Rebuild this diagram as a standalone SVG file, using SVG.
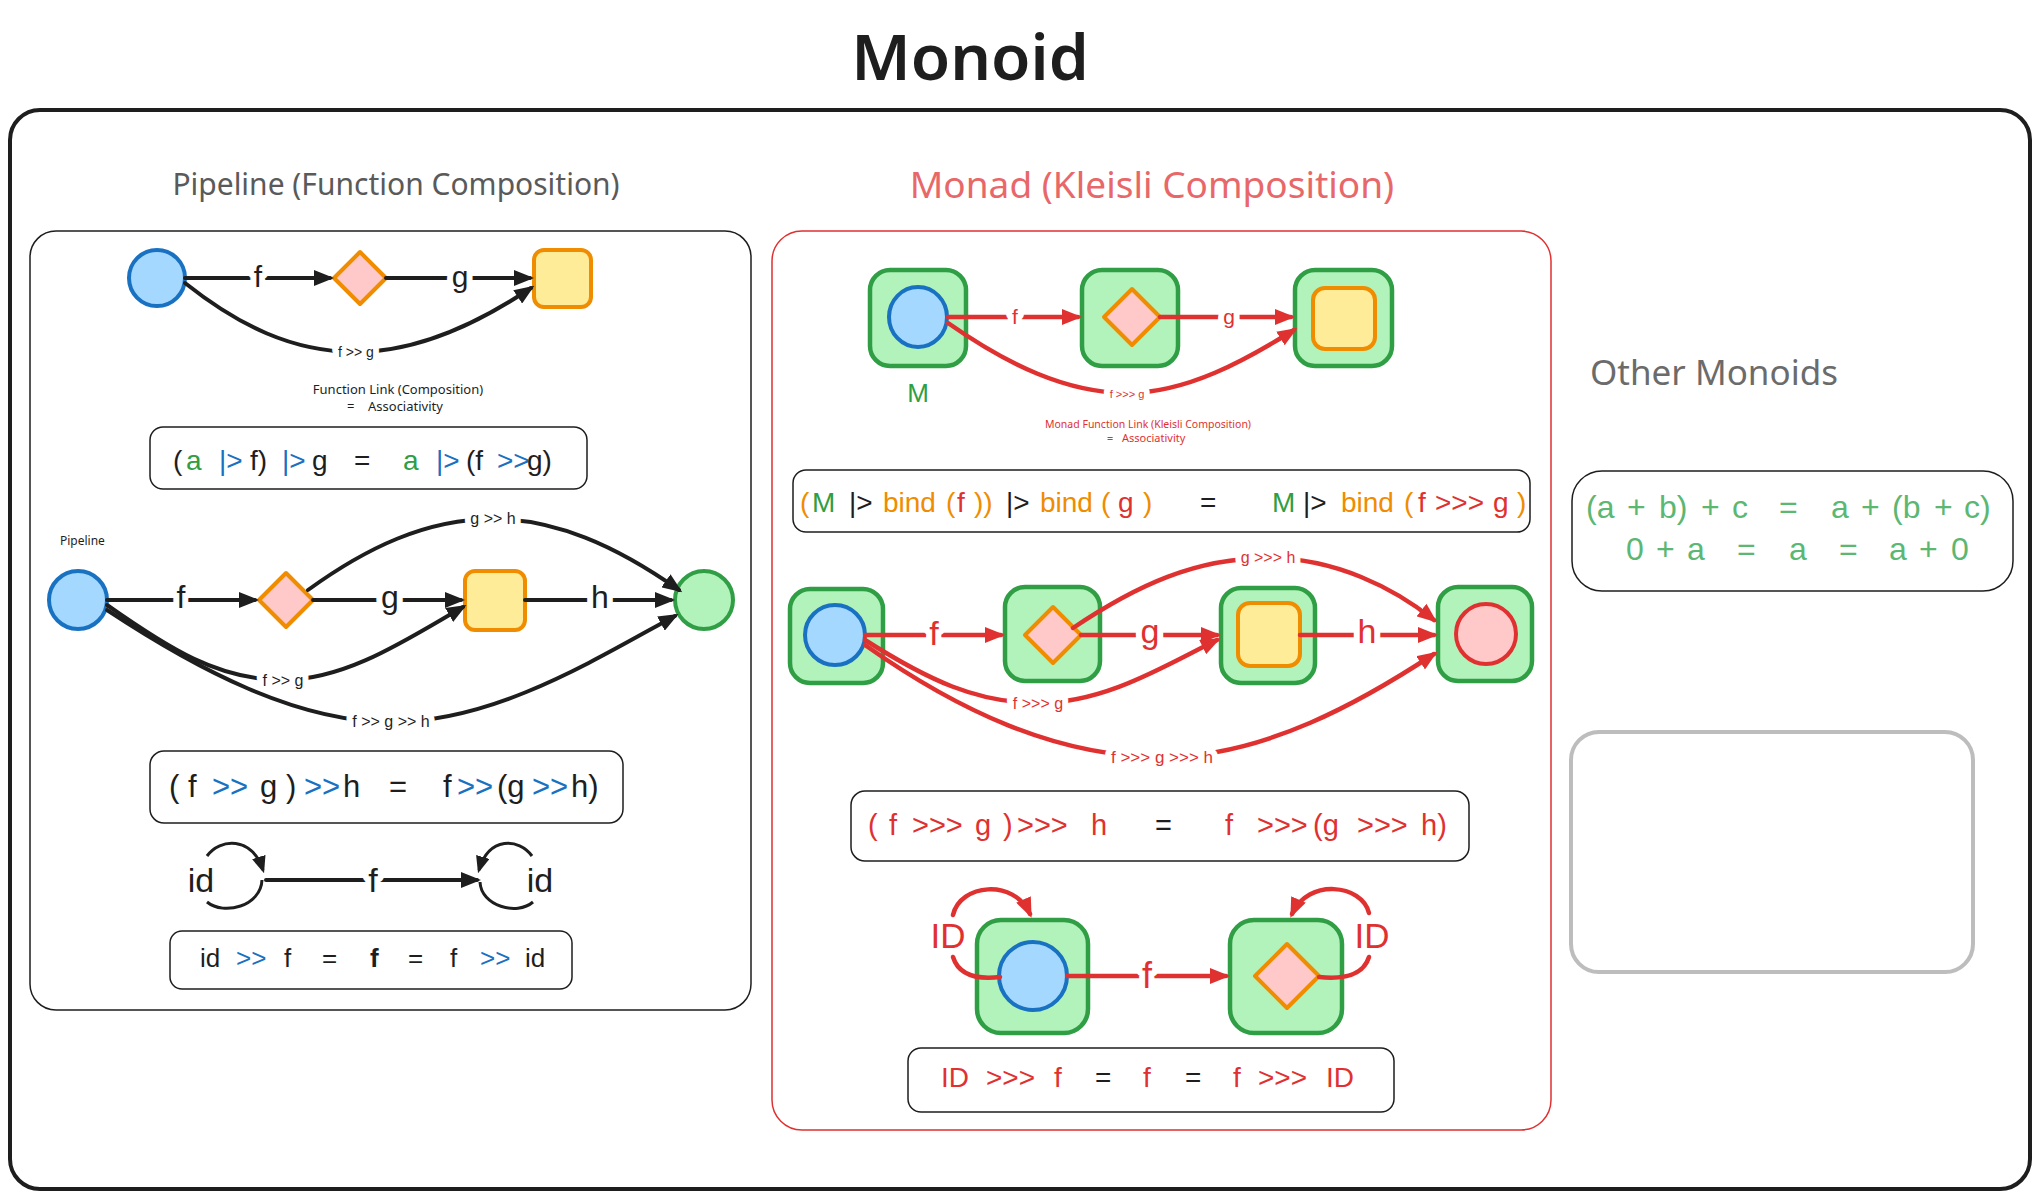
<svg xmlns="http://www.w3.org/2000/svg" width="2040" height="1199" viewBox="0 0 2040 1199">
<defs>
<style>
.hand{font-family:"Noto Sans","DejaVu Sans",sans-serif;}
.eq{font-family:"Liberation Sans Narrow","Liberation Sans",Arial,sans-serif;}
.eqw{font-family:"Liberation Sans",Arial,sans-serif;}
.k{fill:#1e1e1e}.bl{fill:#1971c2}.gr{fill:#2f9e44}.or{fill:#f08c00}.rd{fill:#e03131}
.lbl{paint-order:stroke;stroke:#fff;stroke-width:12px;stroke-linejoin:round;}
.cb{fill:none;stroke:#1e1e1e;stroke-width:4;stroke-linecap:round}
.cr{fill:none;stroke:#e03131;stroke-width:4.5;stroke-linecap:round}
.blue{fill:#a5d8ff;stroke:#1971c2;stroke-width:4}
.pink{fill:#ffc9c9;stroke:#f08c00;stroke-width:4;stroke-linejoin:round}
.yel{fill:#ffec99;stroke:#f08c00;stroke-width:4}
.grn{fill:#b2f2bb;stroke:#2f9e44;stroke-width:4}
.box{fill:#b2f2bb;stroke:#2f9e44;stroke-width:4.5}
.rcirc{fill:#ffc9c9;stroke:#e03131;stroke-width:4}
.eqbox{fill:none;stroke:#1e1e1e;stroke-width:1.5}
</style>
<marker id="ab" viewBox="0 0 10 10" refX="8" refY="5" markerWidth="20" markerHeight="16" preserveAspectRatio="none" markerUnits="userSpaceOnUse" orient="auto"><path d="M0,0 L10,5 L0,10 z" fill="#1e1e1e"/></marker>
<marker id="abs" viewBox="0 0 10 10" refX="8" refY="5" markerWidth="17" markerHeight="14" preserveAspectRatio="none" markerUnits="userSpaceOnUse" orient="auto"><path d="M0,0 L10,5 L0,10 z" fill="#1e1e1e"/></marker>
<marker id="ar" viewBox="0 0 10 10" refX="8" refY="5" markerWidth="20" markerHeight="16" preserveAspectRatio="none" markerUnits="userSpaceOnUse" orient="auto"><path d="M0,0 L10,5 L0,10 z" fill="#e03131"/></marker>
</defs>
<rect width="2040" height="1199" fill="#fff"/>

<g id="frame">
<rect x="10" y="110" width="2020" height="1079" rx="30" fill="none" stroke="#1e1e1e" stroke-width="4"/>
<text x="970" y="80" class="hand" font-size="64" font-weight="600" text-anchor="middle" fill="#1e1e1e">Monoid</text>
</g>

<g id="pipeline-panel">
<text x="396" y="195" class="hand" font-size="30" text-anchor="middle" fill="#5a5a5a">Pipeline (Function Composition)</text>
<rect x="30" y="231" width="721" height="779" rx="26" fill="none" stroke="#1e1e1e" stroke-width="1.5"/>
<text x="398" y="394" class="hand" font-size="13" text-anchor="middle" fill="#1e1e1e">Function Link (Composition)</text>
<text x="347" y="411" class="hand" font-size="13" fill="#1e1e1e">=</text>
<text x="368" y="411" class="hand" font-size="13" fill="#1e1e1e">Associativity</text>
<text x="60" y="545" class="hand" font-size="12" fill="#1e1e1e">Pipeline</text>
</g>

<g id="kleisli-panel">
<text x="1152" y="198" class="hand" font-size="37" text-anchor="middle" fill="#e8686a">Monad (Kleisli Composition)</text>
<rect x="772" y="231" width="779" height="899" rx="30" fill="none" stroke="#e03131" stroke-width="1.5"/>
<text x="918" y="402" class="eqw" font-size="26" text-anchor="middle" fill="#2f9e44">M</text>
<text x="1148" y="428" class="hand" font-size="10.5" text-anchor="middle" fill="#e03131">Monad Function Link (Kleisli Composition)</text>
<text x="1107" y="442" class="hand" font-size="11" fill="#e03131">=</text>
<text x="1122" y="442" class="hand" font-size="11" fill="#e03131">Associativity</text>
</g>

<g id="other-panel">
<text x="1714" y="385" class="hand" font-size="35" text-anchor="middle" fill="#6b6b6b">Other Monoids</text>
</g>

<!-- Left top nodes -->
<g id="p1-a"><circle cx="157" cy="278" r="28" class="blue"/></g>
<g id="p1-b"><polygon points="360,252 386,278 360,304 334,278" class="pink"/></g>
<g id="p1-c"><rect x="534" y="250" width="57" height="57" rx="10" class="yel"/></g>

<!-- Left middle nodes -->
<g id="p2-a"><circle cx="78" cy="600" r="29" class="blue"/></g>
<g id="p2-b"><polygon points="286,573 313,600 286,627 259,600" class="pink"/></g>
<g id="p2-c"><rect x="465" y="571" width="60" height="59" rx="10" class="yel"/></g>
<g id="p2-d"><circle cx="704" cy="600" r="29" class="grn"/></g>

<!-- Middle top nodes -->
<g id="k1-a"><rect x="870" y="270" width="96" height="96" rx="20" class="box"/><ellipse cx="918" cy="317" rx="29" ry="30" class="blue"/></g>
<g id="k1-b"><rect x="1082" y="270" width="96" height="96" rx="20" class="box"/><polygon points="1132,289 1160,317 1132,345 1104,317" class="pink"/></g>
<g id="k1-c"><rect x="1295" y="270" width="97" height="96" rx="20" class="box"/><rect x="1313" y="288" width="62" height="61" rx="12" class="yel"/></g>

<!-- Middle row nodes -->
<g id="k2-a"><rect x="790" y="589" width="93" height="94" rx="20" class="box"/><ellipse cx="835" cy="635" rx="30" ry="30" class="blue"/></g>
<g id="k2-b"><rect x="1005" y="587" width="95" height="94" rx="20" class="box"/><polygon points="1053,607 1081,635 1053,663 1025,635" class="pink"/></g>
<g id="k2-c"><rect x="1221" y="588" width="94" height="95" rx="20" class="box"/><rect x="1238" y="603" width="62" height="63" rx="12" class="yel"/></g>
<g id="k2-d"><rect x="1438" y="587" width="94" height="94" rx="20" class="box"/><ellipse cx="1486" cy="634" rx="30" ry="30" class="rcirc"/></g>

<!-- Middle bottom nodes -->
<g id="k3-a"><rect x="977" y="920" width="111" height="113" rx="24" class="box"/><ellipse cx="1033" cy="976" rx="34" ry="34" class="blue"/></g>
<g id="k3-b"><rect x="1230" y="920" width="112" height="113" rx="24" class="box"/><polygon points="1287,944 1319,976 1287,1008 1255,976" class="pink"/></g>

<!-- Equation boxes -->
<g id="eq1">
<rect x="150" y="427" width="437" height="62" rx="13" class="eqbox"/>
<text class="eq" font-size="28" y="470"><tspan x="173" class="k">(</tspan><tspan x="186" class="gr">a</tspan><tspan x="219" class="bl">|&gt;</tspan><tspan x="250" class="k">f)</tspan><tspan x="282" class="bl">|&gt;</tspan><tspan x="312" class="k">g</tspan><tspan x="354" class="k">=</tspan><tspan x="403" class="gr">a</tspan><tspan x="436" class="bl">|&gt;</tspan><tspan x="466" class="k">(f</tspan><tspan x="497" class="bl">&gt;&gt;</tspan><tspan x="527" class="k">g)</tspan></text>
</g>
<g id="eq2">
<rect x="150" y="751" width="473" height="72" rx="14" class="eqbox"/>
<text class="eq" font-size="31" y="797"><tspan x="169" class="k">(</tspan><tspan x="188" class="k">f</tspan><tspan x="212" class="bl">&gt;&gt;</tspan><tspan x="260" class="k">g</tspan><tspan x="286" class="k">)</tspan><tspan x="304" class="bl">&gt;&gt;</tspan><tspan x="343" class="k">h</tspan><tspan x="389" class="k">=</tspan><tspan x="443" class="k">f</tspan><tspan x="457" class="bl">&gt;&gt;</tspan><tspan x="497" class="k">(g</tspan><tspan x="532" class="bl">&gt;&gt;</tspan><tspan x="571" class="k">h)</tspan></text>
</g>
<g id="eq3">
<rect x="170" y="931" width="402" height="58" rx="12" class="eqbox"/>
<text class="eq" font-size="26" y="967"><tspan x="200" class="k">id</tspan><tspan x="236" class="bl">&gt;&gt;</tspan><tspan x="284" class="k">f</tspan><tspan x="322" class="k">=</tspan><tspan x="370" class="k" font-weight="bold">f</tspan><tspan x="408" class="k">=</tspan><tspan x="450" class="k">f</tspan><tspan x="480" class="bl">&gt;&gt;</tspan><tspan x="525" class="k">id</tspan></text>
</g>
<g id="eqM">
<rect x="793" y="470" width="737" height="62" rx="13" class="eqbox"/>
<text class="eq" font-size="28" y="512"><tspan x="800" class="or">(</tspan><tspan x="812" class="gr">M</tspan><tspan x="849" class="k">|&gt;</tspan><tspan x="883" class="or">bind</tspan><tspan x="946" class="or">(</tspan><tspan x="957" class="rd">f</tspan><tspan x="974" class="or">))</tspan><tspan x="1006" class="k">|&gt;</tspan><tspan x="1040" class="or">bind</tspan><tspan x="1101" class="or">(</tspan><tspan x="1118" class="rd">g</tspan><tspan x="1143" class="or">)</tspan><tspan x="1200" class="k">=</tspan><tspan x="1272" class="gr">M</tspan><tspan x="1303" class="k">|&gt;</tspan><tspan x="1341" class="or">bind</tspan><tspan x="1404" class="or">(</tspan><tspan x="1418" class="rd">f</tspan><tspan x="1435" class="rd">&gt;&gt;&gt;</tspan><tspan x="1493" class="rd">g</tspan><tspan x="1517" class="or">)</tspan></text>
</g>
<g id="eqK">
<rect x="851" y="791" width="618" height="70" rx="14" class="eqbox"/>
<text class="eq rd" font-size="29" y="835"><tspan x="868">(</tspan><tspan x="889">f</tspan><tspan x="912">&gt;&gt;&gt;</tspan><tspan x="975">g</tspan><tspan x="1003">)</tspan><tspan x="1017">&gt;&gt;&gt;</tspan><tspan x="1091">h</tspan><tspan x="1155" class="k">=</tspan><tspan x="1225">f</tspan><tspan x="1257">&gt;&gt;&gt;</tspan><tspan x="1313">(g</tspan><tspan x="1357">&gt;&gt;&gt;</tspan><tspan x="1421">h)</tspan></text>
</g>
<g id="eqID">
<rect x="908" y="1048" width="486" height="64" rx="13" class="eqbox"/>
<text class="eq rd" font-size="28" y="1087"><tspan x="941">ID</tspan><tspan x="986">&gt;&gt;&gt;</tspan><tspan x="1054">f</tspan><tspan x="1095" class="k">=</tspan><tspan x="1143">f</tspan><tspan x="1185" class="k">=</tspan><tspan x="1233">f</tspan><tspan x="1258">&gt;&gt;&gt;</tspan><tspan x="1326">ID</tspan></text>
</g>
<g id="eqOther">
<rect x="1572" y="471" width="441" height="120" rx="30" class="eqbox"/>
<text class="eqw" font-size="32" y="518" fill="#5cb772"><tspan x="1586">(a</tspan><tspan x="1627">+</tspan><tspan x="1659">b)</tspan><tspan x="1701">+</tspan><tspan x="1732">c</tspan><tspan x="1779">=</tspan><tspan x="1831">a</tspan><tspan x="1861">+</tspan><tspan x="1892">(b</tspan><tspan x="1934">+</tspan><tspan x="1964">c)</tspan></text>
<text class="eqw" font-size="32" y="560" fill="#5cb772"><tspan x="1626">0</tspan><tspan x="1656">+</tspan><tspan x="1687">a</tspan><tspan x="1737">=</tspan><tspan x="1789">a</tspan><tspan x="1839">=</tspan><tspan x="1889">a</tspan><tspan x="1919">+</tspan><tspan x="1951">0</tspan></text>
</g>
<g id="empty-box">
<rect x="1571" y="732" width="402" height="240" rx="28" fill="none" stroke="#bdbdbd" stroke-width="4"/>
</g>

<g id="connectors">
<!-- left top -->
<path d="M185,278 L330,278" class="cb" marker-end="url(#ab)"/>
<path d="M386,278 L530,278" class="cb" marker-end="url(#ab)"/>
<path d="M185,283 C238,325 292,352 356,352 C420,352 480,322 531,288" class="cb" marker-end="url(#ab)"/>
<text x="258" y="287" class="eq lbl k" font-size="30" text-anchor="middle">f</text>
<text x="460" y="287" class="eq lbl k" font-size="30" text-anchor="middle">g</text>
<text x="356" y="357" class="eq lbl k" font-size="14" text-anchor="middle">f &gt;&gt; g</text>
<!-- left middle -->
<path d="M107,600 L255,600" class="cb" marker-end="url(#ab)"/>
<path d="M313,600 L461,600" class="cb" marker-end="url(#ab)"/>
<path d="M525,600 L671,600" class="cb" marker-end="url(#ab)"/>
<path d="M308,590 C366,548 426,519 493,519 C555,519 615,545 679,590" class="cb" marker-end="url(#ab)"/>
<path d="M107,605 C168,648 218,680 283,680 C346,680 406,640 463,607" class="cb" marker-end="url(#ab)"/>
<path d="M107,610 C198,670 297,722 391,722 C495,722 594,660 675,616" class="cb" marker-end="url(#ab)"/>
<text x="181" y="608" class="eq lbl k" font-size="32" text-anchor="middle">f</text>
<text x="390" y="608" class="eq lbl k" font-size="32" text-anchor="middle">g</text>
<text x="600" y="608" class="eq lbl k" font-size="32" text-anchor="middle">h</text>
<text x="493" y="524" class="eq lbl k" font-size="16" text-anchor="middle">g &gt;&gt; h</text>
<text x="283" y="686" class="eq lbl k" font-size="16" text-anchor="middle">f &gt;&gt; g</text>
<text x="391" y="727" class="eq lbl k" font-size="16" text-anchor="middle">f &gt;&gt; g &gt;&gt; h</text>
<!-- left bottom identity -->
<path d="M207,856 C220,838 252,836 263,870" fill="none" stroke="#1e1e1e" stroke-width="3" marker-end="url(#abs)"/>
<path d="M262,880 C261,906 224,916 207,902" fill="none" stroke="#1e1e1e" stroke-width="3"/>
<path d="M266,880 L477,880" class="cb" marker-end="url(#ab)"/>
<path d="M532,856 C519,838 489,836 479,870" fill="none" stroke="#1e1e1e" stroke-width="3" marker-end="url(#abs)"/>
<path d="M480,882 C481,906 517,916 533,902" fill="none" stroke="#1e1e1e" stroke-width="3"/>
<text x="373" y="892" class="eq lbl k" font-size="34" text-anchor="middle">f</text>
<text x="201" y="892" class="eq k" font-size="34" text-anchor="middle">id</text>
<text x="540" y="892" class="eq k" font-size="34" text-anchor="middle">id</text>
<!-- middle top -->
<path d="M948,317 L1078,317" class="cr" marker-end="url(#ar)"/>
<path d="M1160,317 L1291,317" class="cr" marker-end="url(#ar)"/>
<path d="M948,323 C1008,365 1067,393 1127,393 C1187,393 1246,360 1294,330" class="cr" marker-end="url(#ar)"/>
<text x="1015" y="324" class="eq lbl rd" font-size="21" text-anchor="middle">f</text>
<text x="1229" y="324" class="eq lbl rd" font-size="21" text-anchor="middle">g</text>
<text x="1127" y="398" class="eq lbl rd" font-size="11" text-anchor="middle">f &gt;&gt;&gt; g</text>
<!-- middle row -->
<path d="M865,635 L1001,635" class="cr" marker-end="url(#ar)"/>
<path d="M1081,635 L1217,635" class="cr" marker-end="url(#ar)"/>
<path d="M1300,635 L1434,635" class="cr" marker-end="url(#ar)"/>
<path d="M1073,628 C1137,585 1196,558 1268,558 C1335,558 1394,588 1434,620" class="cr" marker-end="url(#ar)"/>
<path d="M865,640 C928,680 977,703 1038,703 C1106,703 1166,665 1217,640" class="cr" marker-end="url(#ar)"/>
<path d="M865,645 C957,710 1056,757 1162,757 C1265,757 1364,700 1434,654" class="cr" marker-end="url(#ar)"/>
<text x="934" y="645" class="eq lbl rd" font-size="34" text-anchor="middle">f</text>
<text x="1150" y="643" class="eq lbl rd" font-size="34" text-anchor="middle">g</text>
<text x="1367" y="643" class="eq lbl rd" font-size="34" text-anchor="middle">h</text>
<text x="1268" y="563" class="eq lbl rd" font-size="16" text-anchor="middle">g &gt;&gt;&gt; h</text>
<text x="1038" y="709" class="eq lbl rd" font-size="16" text-anchor="middle">f &gt;&gt;&gt; g</text>
<text x="1162" y="763" class="eq lbl rd" font-size="17" text-anchor="middle">f &gt;&gt;&gt; g &gt;&gt;&gt; h</text>
<!-- middle bottom identity -->
<path d="M953,915 C960,884 1014,878 1030,914" class="cr" marker-end="url(#ar)"/>
<path d="M953,957 C958,973 974,980 1000,977" class="cr"/>
<path d="M1369,913 C1362,884 1308,878 1292,914" class="cr" marker-end="url(#ar)"/>
<path d="M1369,957 C1364,973 1349,980 1319,977" class="cr"/>
<path d="M1067,976 L1226,976" class="cr" marker-end="url(#ar)"/>
<text x="1147" y="988" class="eq lbl rd" font-size="36" text-anchor="middle">f</text>
<text x="948" y="948" class="eq lbl rd" font-size="35" text-anchor="middle">ID</text>
<text x="1372" y="948" class="eq lbl rd" font-size="35" text-anchor="middle">ID</text>
</g>
</svg>
